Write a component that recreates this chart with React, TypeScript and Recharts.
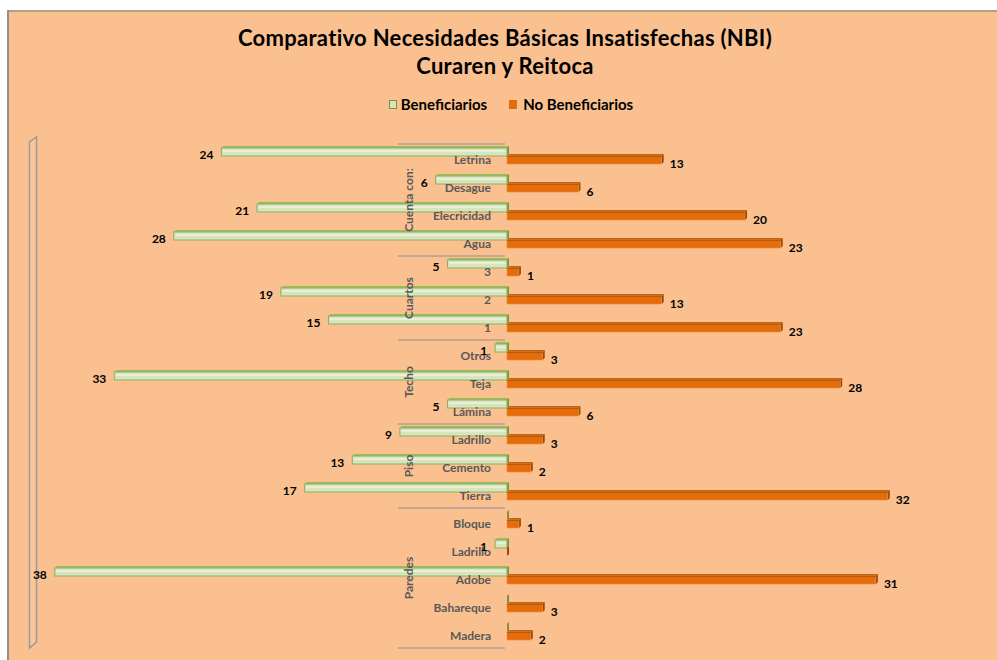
import React from 'react';
import { BarChart, Bar, XAxis, YAxis, Legend, LabelList, ReferenceArea } from 'recharts';

const categories = ['Letrina', 'Desague', 'Elecricidad', 'Agua', '3', '2', '1', 'Otros', 'Teja', 'Lámina', 'Ladrillo', 'Cemento', 'Tierra', 'Bloque', 'Ladrillo', 'Adobe', 'Bahareque', 'Madera'];
const groupNames = ['Cuenta con:', 'Cuartos', 'Techo', 'Piso', 'Paredes'];
const groupSizes = [4, 3, 3, 3, 5];
const beneficiarios = [24, 6, 21, 28, 5, 19, 15, 1, 33, 5, 9, 13, 17, 0, 1, 38, 0, 0];
const noBeneficiarios = [13, 6, 20, 23, 1, 13, 23, 3, 28, 6, 3, 2, 32, 1, 0, 31, 3, 2];
const seriesNames = ['Beneficiarios', 'No Beneficiarios'];
const titleLines = ['Comparativo Necesidades Básicas Insatisfechas (NBI)', 'Curaren y Reitoca'];

const data = categories.map((c, i) => ({
  key: `${i}-${c}`,
  name: c,
  ben: -beneficiarios[i],
  noBen: noBeneficiarios[i],
}));

const W = 990;
const H = 650;
const LEGEND_H = 18;
const PLOT_TOP = 134;
const MARGIN = { top: PLOT_TOP - LEGEND_H, right: 14, bottom: 12, left: 23 };
const AXIS_W = 1;
const DOMAIN: [number, number] = [-40, 40];
const PLOT_L = MARGIN.left + AXIS_W;
const PLOT_W = W - PLOT_L - MARGIN.right;
const PLOT_H = H - PLOT_TOP - MARGIN.bottom;
const BAND = PLOT_H / categories.length;
const ZERO_X = PLOT_L + (PLOT_W * (0 - DOMAIN[0])) / (DOMAIN[1] - DOMAIN[0]);

const FONT = 'Lato, "Open Sans", sans-serif';

const groupStarts: number[] = [];
{
  let s = 0;
  groupSizes.forEach((n) => {
    groupStarts.push(s);
    s += n;
  });
}

const CategoryTick = (props: any) => {
  const { y, index } = props;
  const gi = groupStarts.indexOf(index);
  const top = y - BAND / 2;
  const gy = top + (groupSizes[gi] * BAND) / 2;
  return (
    <g>
      <text x={ZERO_X - 16} y={y + 1} textAnchor="end" dominantBaseline="central" fontFamily={FONT} fontWeight={700} fontSize={12} fill="#595959">
        {categories[index]}
      </text>
      {gi >= 0 && (
        <g>
          <line x1={ZERO_X - 109} x2={ZERO_X - 2} y1={top} y2={top} stroke="#8C8C9C" strokeWidth={1} />
          <text
            x={ZERO_X - 99}
            y={gy}
            transform={`rotate(-90 ${ZERO_X - 99} ${gy})`}
            textAnchor="middle"
            dominantBaseline="central"
            fontFamily={FONT}
            fontWeight={700}
            fontSize={12}
            fill="#595959"
          >
            {groupNames[gi]}
          </text>
        </g>
      )}
      {index === categories.length - 1 && (
        <line x1={ZERO_X - 109} x2={ZERO_X - 2} y1={y + BAND / 2} y2={y + BAND / 2} stroke="#8C8C9C" strokeWidth={1} />
      )}
    </g>
  );
};

const D = 2;
const GreenShape = (p: any) => {
  const { x, y, width, height } = p;
  if (x == null || y == null) return null;
  const l = Math.min(x, x + width);
  const r = Math.max(x, x + width);
  const yy = y - 2;
  return (
    <g>
      <polygon points={`${l},${yy} ${l + D},${yy - D} ${r + D},${yy - D} ${r},${yy}`} fill="#9BBB59" />
      <polygon points={`${r},${yy} ${r + D},${yy - D} ${r + D},${yy + height - D} ${r},${yy + height}`} fill="#77933C" />
      <rect x={l} y={yy} width={r - l} height={height} fill="#D7E4BD" stroke="#8DB05A" strokeWidth={1} />
      {r - l > 3 && <rect x={l + 1.5} y={yy + 2} width={r - l - 3} height={2} fill="#E8F0DA" />}
    </g>
  );
};

const OrangeShape = (p: any) => {
  const { x, y, width, height } = p;
  if (x == null || y == null) return null;
  const l = Math.min(x, x + width);
  const r = Math.max(x, x + width);
  const yy = y - 2;
  return (
    <g>
      <polygon points={`${l},${yy} ${l + D},${yy - D} ${r + D},${yy - D} ${r},${yy}`} fill="#C0640F" />
      <polygon points={`${r},${yy} ${r + D},${yy - D} ${r + D},${yy + height - D} ${r},${yy + height}`} fill="#984807" />
      <rect x={l} y={yy} width={r - l} height={height} fill="#E46C0A" stroke="#EE8A3A" strokeWidth={0.6} />
      {r - l > 0 && <rect x={l} y={yy} width={r - l} height={1} fill="#B35A0C" />}
    </g>
  );
};

const greenLabel = (props: any) => {
  const vb = props.viewBox || props;
  const { x, y, width, height } = vb;
  const v = Math.abs(Number(props.value));
  if (!v) return null;
  const l = Math.min(x, x + width);
  return (
    <text x={l - 8} y={y + height / 2} textAnchor="end" dominantBaseline="central" fontFamily={FONT} fontWeight={700} fontSize={12} fill="#000">
      {v}
    </text>
  );
};

const orangeLabel = (props: any) => {
  const vb = props.viewBox || props;
  const { x, y, width, height } = vb;
  const v = Math.abs(Number(props.value));
  if (!v) return null;
  const r = Math.max(x, x + width);
  return (
    <text x={r + 8} y={y + height / 2 + 1} textAnchor="start" dominantBaseline="central" fontFamily={FONT} fontWeight={700} fontSize={12} fill="#000">
      {v}
    </text>
  );
};

const WallShape = (p: any) => {
  const { x, y, height } = p;
  if (x == null || y == null) return null;
  const pts = `${x - 1.5},${y - 2} ${x + 5.5},${y - 7} ${x + 5.5},${y + height - 6} ${x - 1.5},${y + height}`;
  return <polygon points={pts} fill="#FBC698" stroke="#9A9A9A" strokeWidth={1.5} />;
};

const LegendContent = () => (
  <div style={{ display: 'flex', justifyContent: 'center', alignItems: 'center', fontFamily: FONT, fontWeight: 700, fontSize: 15, color: '#000', paddingLeft: 18, height: LEGEND_H, lineHeight: `${LEGEND_H}px` }}>
    <span style={{ display: 'inline-block', width: 6, height: 7, background: '#D7E4BD', border: '1px solid #77933C', marginRight: 4 }} />
    <span style={{ marginRight: 22 }}>{seriesNames[0]}</span>
    <span style={{ display: 'inline-block', width: 8, height: 9, background: '#E46C0A', marginRight: 6 }} />
    <span>{seriesNames[1]}</span>
  </div>
);

export default function App() {
  return (
    <div style={{ position: 'absolute', left: 7, top: 10, width: W, height: H, background: '#FAC090', overflow: 'hidden' }}>
      <div style={{ position: 'absolute', left: 0, top: 0, width: W, height: 2, background: '#B89C84', zIndex: 2 }} />
      <div style={{ position: 'absolute', left: 0, top: 0, width: 2, height: H, background: '#8F8F8F', zIndex: 2 }} />
      <div style={{ position: 'absolute', left: 0, top: 14, width: W, paddingLeft: 6, boxSizing: 'border-box', textAlign: 'center', fontFamily: FONT, fontWeight: 700, fontSize: 22, letterSpacing: 0.3, lineHeight: '28px', color: '#000', zIndex: 1 }}>
        <div>{titleLines[0]}</div>
        <div>{titleLines[1]}</div>
      </div>
      <div style={{ position: 'absolute', left: 0, top: 0 }}>
        <BarChart width={W} height={H} data={data} layout="vertical" margin={MARGIN} barSize={8} barGap={0}>
          <XAxis type="number" domain={DOMAIN} hide allowDataOverflow />
          <YAxis type="category" dataKey="key" width={AXIS_W} axisLine={false} tickLine={false} tick={<CategoryTick />} interval={0} />
          <ReferenceArea x1={-40} x2={-39.5} shape={WallShape} ifOverflow="visible" />
          <Legend layout="vertical" verticalAlign="top" align="center" content={<LegendContent />} wrapperStyle={{ top: 85, left: 0, width: W }} />
          <Bar dataKey="ben" name={seriesNames[0]} shape={<GreenShape />} isAnimationActive={false}>
            <LabelList dataKey="ben" content={greenLabel} />
          </Bar>
          <Bar dataKey="noBen" name={seriesNames[1]} shape={<OrangeShape />} isAnimationActive={false}>
            <LabelList dataKey="noBen" content={orangeLabel} />
          </Bar>
        </BarChart>
      </div>
    </div>
  );
}
